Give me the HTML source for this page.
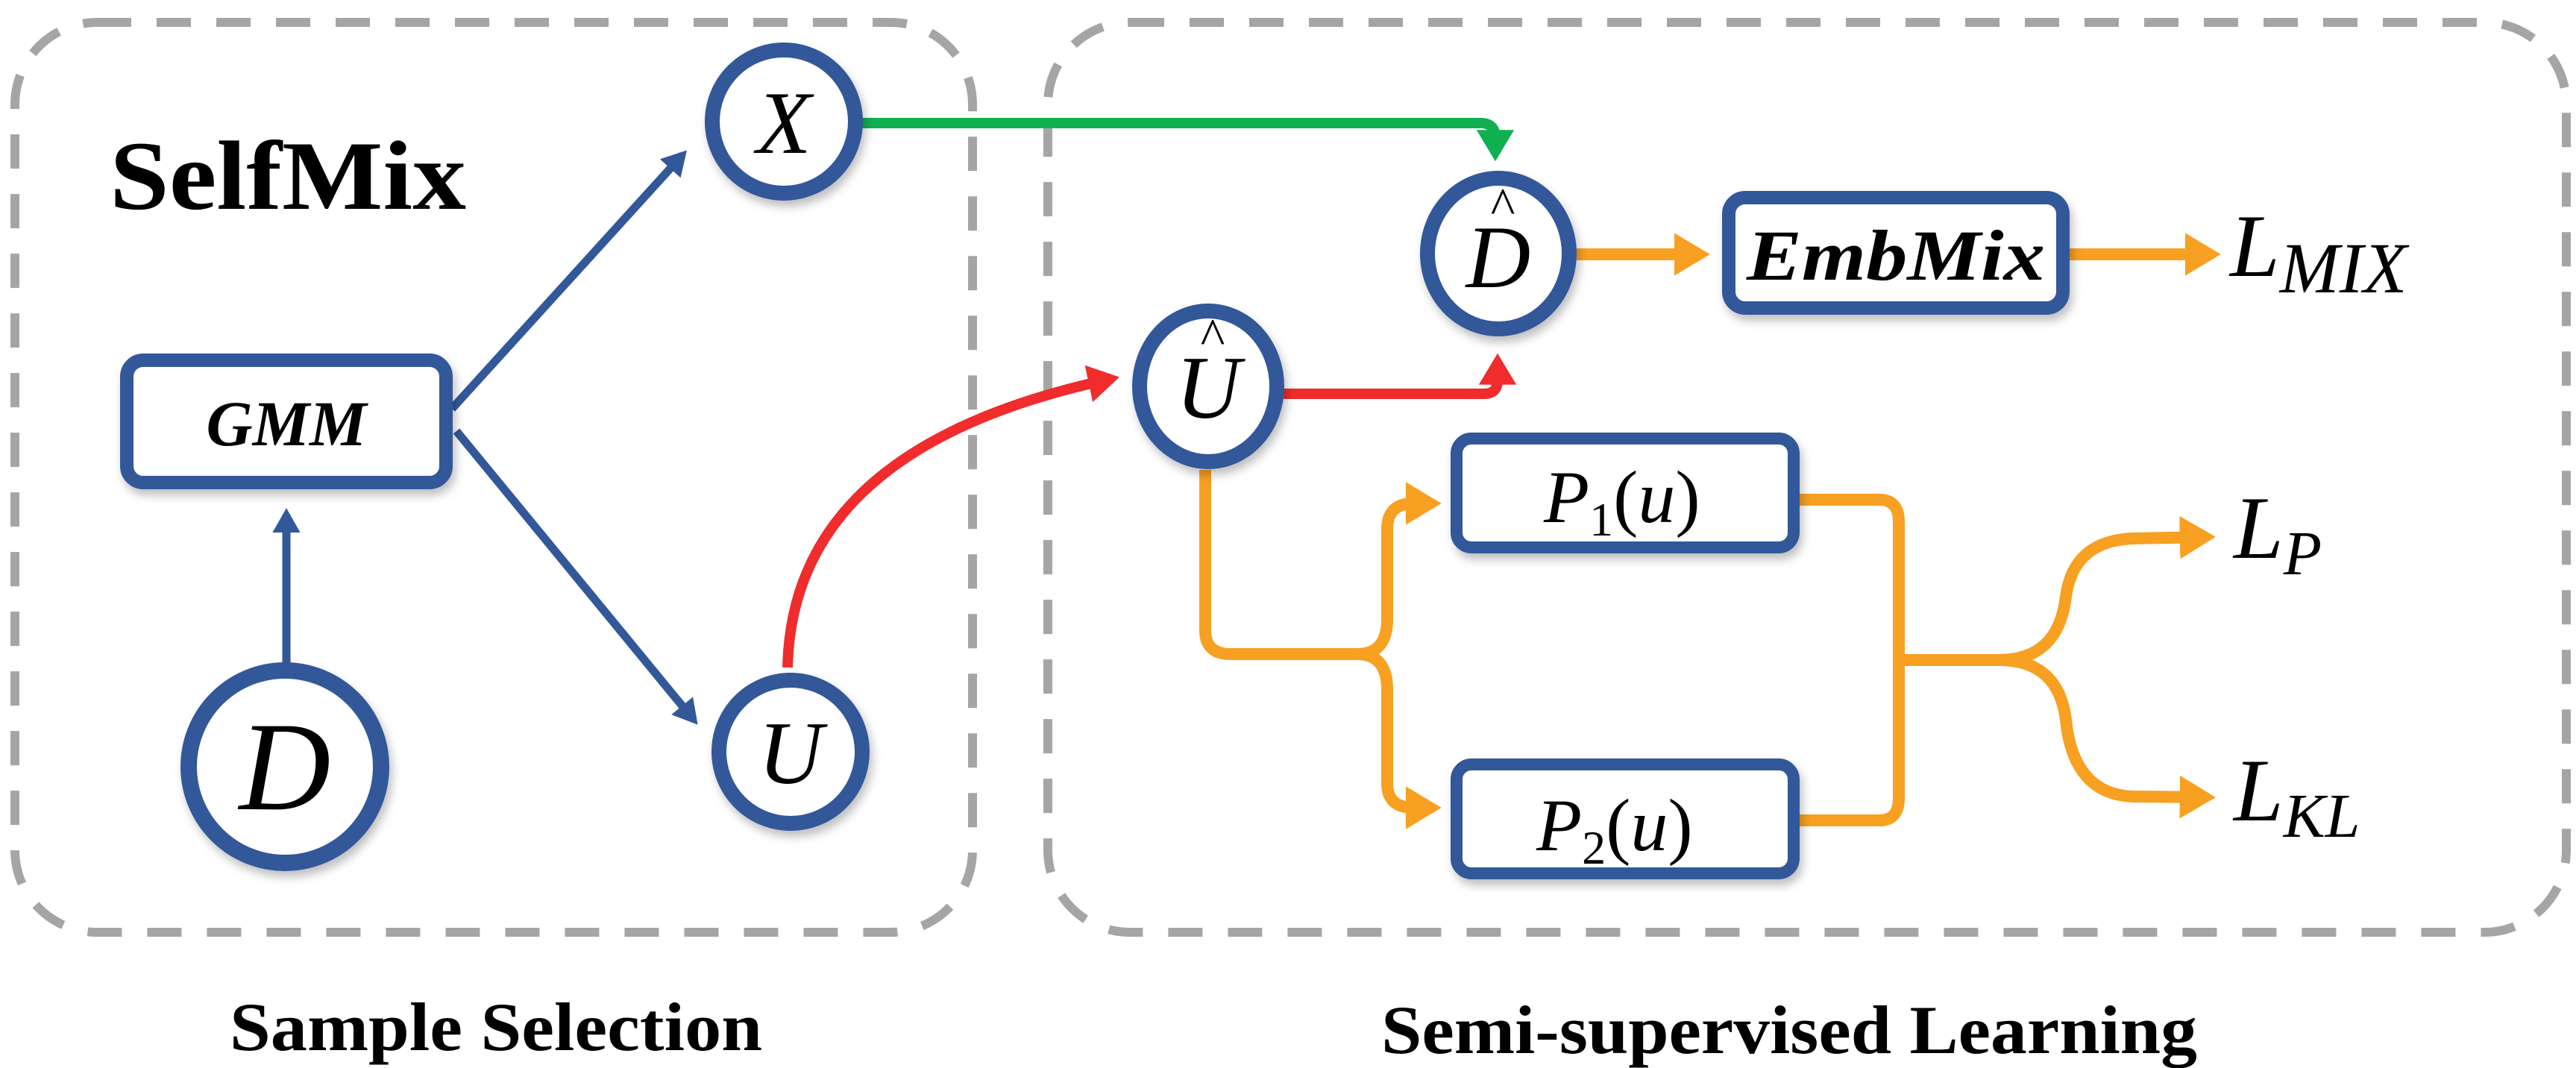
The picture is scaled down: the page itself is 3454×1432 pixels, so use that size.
<!DOCTYPE html>
<html><head><meta charset="utf-8"><style>
html,body{margin:0;padding:0;background:#fff}
svg{display:block}
</style></head><body>
<svg width="3454" height="1432" viewBox="0 0 3454 1432" xmlns="http://www.w3.org/2000/svg">
<defs>
<marker id="ab" markerWidth="4" markerHeight="4" refX="2.2" refY="2" orient="auto" markerUnits="strokeWidth"><path d="M0,0.3 L3,2 L0,3.7 Z" fill="#33589a"/></marker>
<marker id="ao" markerWidth="4" markerHeight="4" refX="2.2" refY="2" orient="auto" markerUnits="strokeWidth"><path d="M0,0.2 L3,2 L0,3.8 Z" fill="#f7a021"/></marker>
<marker id="ar" markerWidth="4" markerHeight="4" refX="2.2" refY="2" orient="auto" markerUnits="strokeWidth"><path d="M0,0.2 L3,2 L0,3.8 Z" fill="#f02c2c"/></marker>
<marker id="ag" markerWidth="4" markerHeight="4" refX="2.2" refY="2" orient="auto" markerUnits="strokeWidth"><path d="M0,0.2 L3,2 L0,3.8 Z" fill="#10b050"/></marker>
<filter id="sh" x="-20%" y="-20%" width="140%" height="140%"><feDropShadow dx="4" dy="8" stdDeviation="6" flood-color="#000" flood-opacity="0.25"/></filter>
</defs>

<!-- dashed frames -->
<rect x="20" y="30" width="1284" height="1220" rx="110" fill="none" stroke="#a5a5a5" stroke-width="12" stroke-dasharray="46 34"/>
<rect x="1405" y="30" width="2036" height="1220" rx="110" fill="none" stroke="#a5a5a5" stroke-width="12" stroke-dasharray="46 34"/>

<text x="147" y="280" font-family="Liberation Serif, serif" font-weight="bold" font-size="132" textLength="478" lengthAdjust="spacingAndGlyphs">SelfMix</text>

<!-- blue connectors -->
<line x1="384" y1="890" x2="384" y2="690" stroke="#33589a" stroke-width="11" marker-end="url(#ab)"/>
<line x1="606" y1="548" x2="915" y2="208" stroke="#33589a" stroke-width="11" marker-end="url(#ab)"/>
<line x1="612" y1="578" x2="930" y2="965" stroke="#33589a" stroke-width="11" marker-end="url(#ab)"/>

<!-- green -->
<path d="M1156,165 L1985,165 Q2005,165 2005,185 L2005,205" fill="none" stroke="#10b050" stroke-width="14" marker-end="url(#ag)"/>
<!-- red -->
<path d="M1056,895 C1060,700 1200,570 1490,508" fill="none" stroke="#f02c2c" stroke-width="14" marker-end="url(#ar)"/>
<path d="M1721,528 L1990,528 Q2008,528 2008,510 L2008,485" fill="none" stroke="#f02c2c" stroke-width="14" marker-end="url(#ar)"/>

<!-- orange -->
<line x1="2114" y1="341" x2="2280" y2="341" stroke="#f7a021" stroke-width="16" marker-end="url(#ao)"/>
<line x1="2774" y1="341" x2="2965" y2="341" stroke="#f7a021" stroke-width="16" marker-end="url(#ao)"/>
<path d="M1616,630 L1616,845 Q1616,877 1650,877 L1820,877 Q1860,877 1860,830 L1860,710 Q1860,675 1895,675 L1920,675" fill="none" stroke="#f7a021" stroke-width="16" marker-end="url(#ao)"/>
<path d="M1820,877 Q1860,877 1860,925 L1860,1050 Q1860,1083 1895,1083 L1920,1083" fill="none" stroke="#f7a021" stroke-width="16" marker-end="url(#ao)"/>
<path d="M2412,670 L2520,670 Q2546,670 2546,700 L2546,1070 Q2546,1100 2520,1100 L2412,1100" fill="none" stroke="#f7a021" stroke-width="16"/>
<path d="M2546,885 L2680,885 Q2760,885 2770,800 Q2780,725 2860,722 L2958,720" fill="none" stroke="#f7a021" stroke-width="16" marker-end="url(#ao)"/>
<path d="M2546,885 L2680,885 Q2760,885 2770,965 Q2780,1065 2860,1068 L2958,1069" fill="none" stroke="#f7a021" stroke-width="16" marker-end="url(#ao)"/>

<!-- boxes -->
<g filter="url(#sh)">
<rect x="170" y="483" width="428" height="164" rx="22" fill="#fff" stroke="#33589a" stroke-width="18"/>
<rect x="2318" y="265" width="448" height="148" rx="22" fill="#fff" stroke="#33589a" stroke-width="18"/>
<rect x="1953" y="588" width="452" height="146" rx="20" fill="#fff" stroke="#33589a" stroke-width="16"/>
<rect x="1953" y="1025" width="452" height="146" rx="20" fill="#fff" stroke="#33589a" stroke-width="16"/>
<!-- circles -->
<circle cx="382" cy="1028" r="129" fill="#fff" stroke="#33589a" stroke-width="22"/>
<circle cx="1051" cy="163" r="96" fill="#fff" stroke="#33589a" stroke-width="20"/>
<circle cx="1060" cy="1008" r="96" fill="#fff" stroke="#33589a" stroke-width="20"/>
<ellipse cx="1620" cy="518" rx="92" ry="101" fill="#fff" stroke="#33589a" stroke-width="20"/>
<ellipse cx="2009" cy="340" rx="95" ry="101" fill="#fff" stroke="#33589a" stroke-width="20"/>
</g>

<g font-family="Liberation Serif, serif" font-style="italic" fill="#000">
<text x="384" y="597" font-weight="bold" font-size="86" text-anchor="middle">GMM</text>
<text x="2542" y="375" font-weight="bold" font-size="96" text-anchor="middle" textLength="400" lengthAdjust="spacingAndGlyphs">EmbMix</text>
<text x="382" y="1085" font-size="170" text-anchor="middle">D</text>
<text x="1051" y="205" font-size="120" text-anchor="middle">X</text>
<text x="1060" y="1050" font-size="120" text-anchor="middle">U</text>
<text x="1620" y="560" font-size="120" text-anchor="middle">U</text>
<text x="1626" y="475" font-size="70" font-style="normal" text-anchor="middle">^</text>
<text x="2009" y="385" font-size="120" text-anchor="middle">D</text>
<text x="2015" y="300" font-size="70" font-style="normal" text-anchor="middle">^</text>
<text x="2070" y="700" font-size="100">P<tspan font-size="64" font-style="normal" dy="18">1</tspan><tspan font-style="normal" dy="-18">(</tspan>u<tspan font-style="normal">)</tspan></text>
<text x="2060" y="1140" font-size="100">P<tspan font-size="64" font-style="normal" dy="18">2</tspan><tspan font-style="normal" dy="-18">(</tspan>u<tspan font-style="normal">)</tspan></text>
<text x="2990" y="370" font-size="120">L<tspan font-size="96" dy="22">MIX</tspan></text>
<text x="2995" y="748" font-size="120">L<tspan font-size="84" dy="22">P</tspan></text>
<text x="2995" y="1100" font-size="120">L<tspan font-size="84" dy="22">KL</tspan></text>
</g>

<text x="308" y="1408" font-family="Liberation Serif, serif" font-weight="bold" font-size="92" textLength="714" lengthAdjust="spacingAndGlyphs">Sample Selection</text>
<text x="1852" y="1412" font-family="Liberation Serif, serif" font-weight="bold" font-size="92" textLength="1094" lengthAdjust="spacingAndGlyphs">Semi-supervised Learning</text>
</svg>
</body></html>
